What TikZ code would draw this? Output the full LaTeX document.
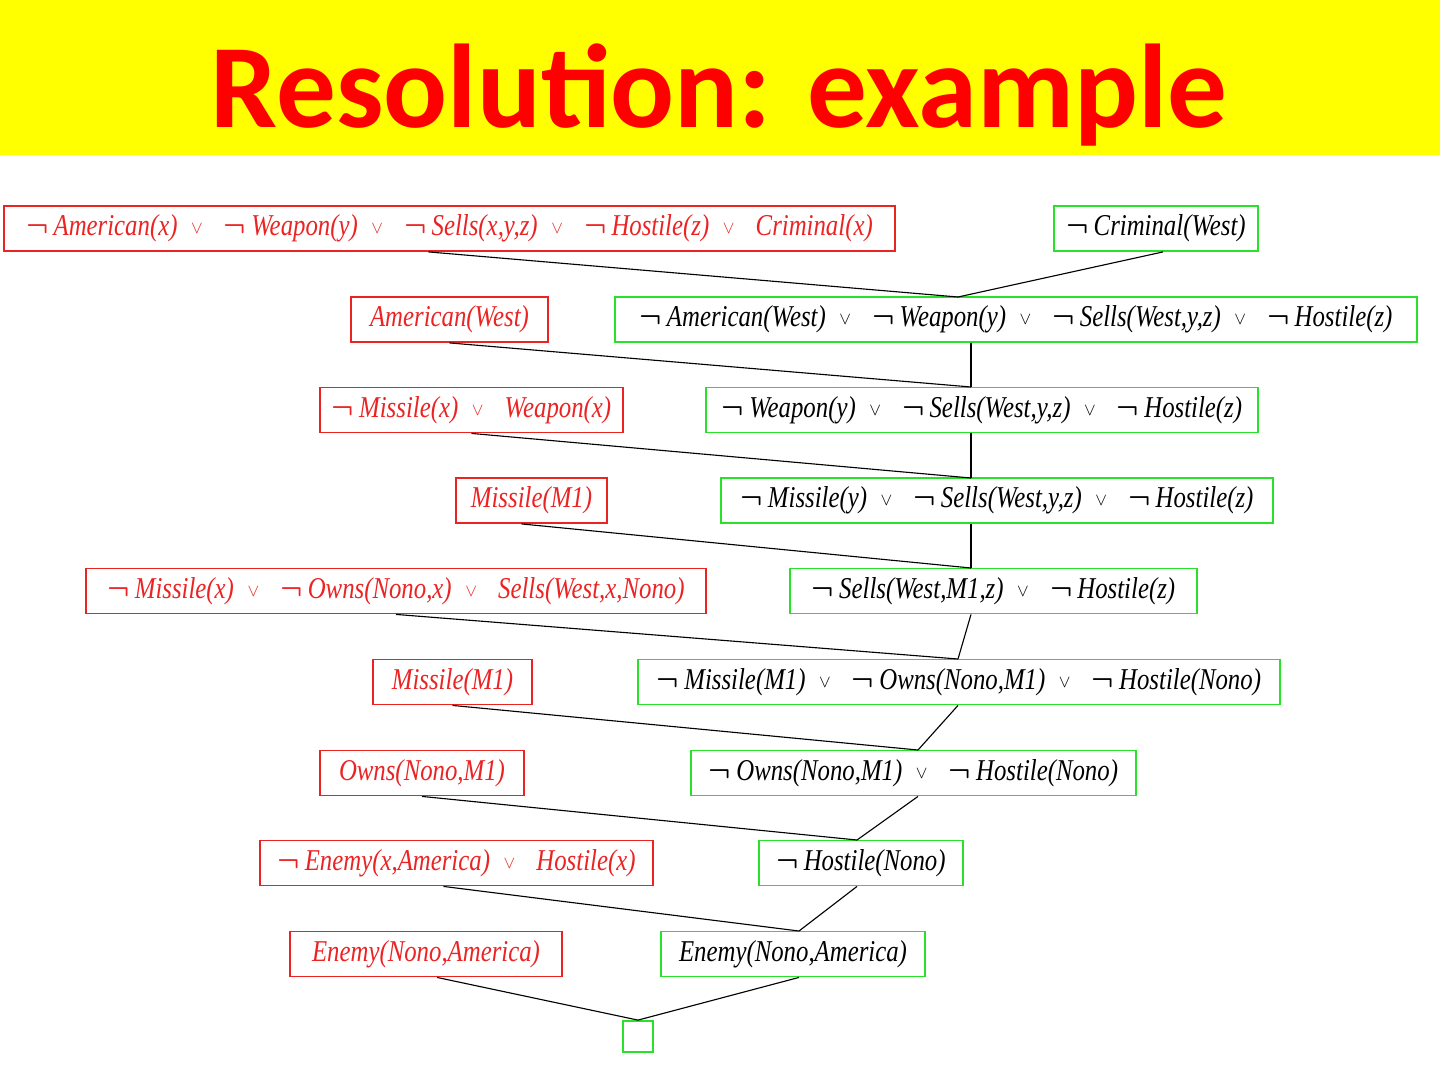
\documentclass[tikz,border=0pt]{standalone}
\usepackage{fontspec}
\usepackage{graphicx}
\usepackage{amsmath,bm}
\usepackage{tikz}
\usetikzlibrary{positioning}
\setmainfont{Liberation Serif}
\newfontfamily\clausefont[FakeStretch=0.82]{Liberation Serif}
\newfontfamily\titlefont{Carlito}
\definecolor{titlered}{RGB}{255,0,0}
\definecolor{slideyellow}{RGB}{255,255,0}
\definecolor{givenred}{RGB}{235,35,35}
\definecolor{derivgreen}{RGB}{40,225,40}
\newcommand{\negl}{$\boldsymbol{\neg}$\,}
\newcommand{\disj}{\hspace{0.45em}\raisebox{0.15ex}{\scalebox{0.6}{$\vee$}}\hspace{0.7em}}

\begin{document}
\begin{tikzpicture}[
  x=0.025cm, y=-0.025cm,
  clause/.style={rectangle, line width=1.3pt, minimum height=45*0.025cm,
                 inner sep=2pt, font=\clausefont\itshape\fontsize{21.5}{24}\selectfont},
  given/.style={clause, draw=givenred, text=givenred},
  derived/.style={clause, draw=derivgreen, text=black},
  w/.style={minimum width=#1*0.025cm},
  link/.style={line width=0.8pt, black}
]
\useasboundingbox (0,0) rectangle (1440,1080);
\fill[slideyellow] (0,0) rectangle (1440,155);
\node[font=\titlefont\bfseries\fontsize{84.7}{86}\selectfont, text=titlered,
      anchor=base] (title) at (719,127) {Resolution: example};

% input clauses (left) and resolvents (right)
\node[given, w=891] (r1) at (449.5,228.5)
  {\negl American(x)\disj\negl Weapon(y)\disj\negl Sells(x,y,z)\disj\negl Hostile(z)\disj Criminal(x)};
\node[derived, w=204] (c1) at (1156,228.5) {\negl Criminal(West)};

\node[given, w=197] (r2) at (449.5,319.5) {American(West)};
\node[derived, w=802] (g2) at (1016,319.5)
  {\negl American(West)\disj\negl Weapon(y)\disj\negl Sells(West,y,z)\disj\negl Hostile(z)};

\node[given, w=303] (r3) at (471.5,410) {\negl Missile(x)\disj Weapon(x)};
\node[derived, w=552] (g3) at (982,410)
  {\negl Weapon(y)\disj\negl Sells(West,y,z)\disj\negl Hostile(z)};

\node[given, w=151] (r4) at (531.5,500.5) {Missile(M1)};
\node[derived, w=552] (g4) at (997,500.5)
  {\negl Missile(y)\disj\negl Sells(West,y,z)\disj\negl Hostile(z)};

\node[given, w=620] (r5) at (396,591)
  {\negl Missile(x)\disj\negl Owns(Nono,x)\disj Sells(West,x,Nono)};
\node[derived, w=407] (g5) at (993.5,591)
  {\negl Sells(West,M1,z)\disj\negl Hostile(z)};

\node[given, w=159] (r6) at (452.5,682) {Missile(M1)};
\node[derived, w=642] (g6) at (959,682)
  {\negl Missile(M1)\disj\negl Owns(Nono,M1)\disj\negl Hostile(Nono)};

\node[given, w=204] (r7) at (422,773) {Owns(Nono,M1)};
\node[derived, w=445] (g7) at (913.5,773)
  {\negl Owns(Nono,M1)\disj\negl Hostile(Nono)};

\node[given, w=393] (r8) at (456.5,863)
  {\negl Enemy(x,America)\disj Hostile(x)};
\node[derived, w=204] (g8) at (861,863) {\negl Hostile(Nono)};

\node[given, w=272] (r9) at (426,954) {Enemy(Nono,America)};
\node[derived, w=264] (g9) at (793,954) {Enemy(Nono,America)};

\node[derived, w=30, minimum height=31*0.025cm] (empty) at (638,1036.5) {};

% join points on the top edges
\coordinate (j2) at (958,297);
\coordinate (j3) at (971,387);
\coordinate (j4) at (971,478);
\coordinate (j5) at (971,568);
\coordinate (j6) at (958,659);
\coordinate (j7) at (918,750);
\coordinate (j8) at (857,840);
\coordinate (j9) at (799,931);
\coordinate (j10) at (empty.north);

\draw[link] (r1.south) ++(-21,0) -- (j2);
\draw[link] (c1.south) ++(7,0) -- (j2);
\draw[link] (r2.south) -- (j3);
\draw[link] (j3 |- g2.south) -- (j3);
\draw[link] (r3.south) -- (j4);
\draw[link] (j4 |- g3.south) -- (j4);
\draw[link] (r4.south) ++(-10,0) -- (j5);
\draw[link] (j5 |- g4.south) -- (j5);
\draw[link] (r5.south) -- (j6);
\draw[link] (j5 |- g5.south) -- (j6);
\draw[link] (r6.south) -- (j7);
\draw[link] (j6 |- g6.south) -- (j7);
\draw[link] (r7.south) -- (j8);
\draw[link] (j7 |- g7.south) -- (j8);
\draw[link] (r8.south) ++(-13,0) -- (j9);
\draw[link] (j8 |- g8.south) -- (j9);
\draw[link] (r9.south) ++(11,0) -- (j10);
\draw[link] (j9 |- g9.south) -- (j10);
\end{tikzpicture}
\end{document}
